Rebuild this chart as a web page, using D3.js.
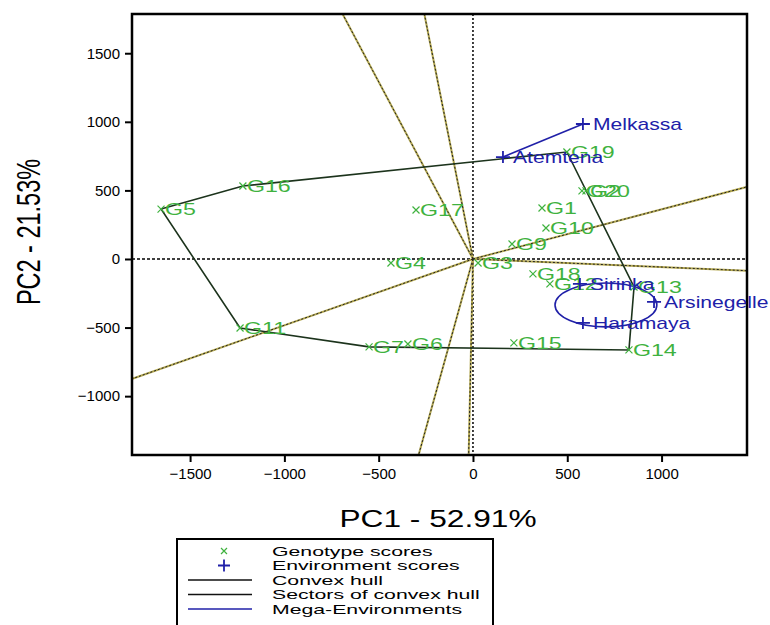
<!DOCTYPE html>
<html>
<head>
<meta charset="utf-8">
<script src="https://cdn.jsdelivr.net/npm/d3@7"></script>
<style>
  body { margin: 0; background: #fff; }
  svg { font-family: "Liberation Sans", Arial, sans-serif; }
</style>
</head>
<body>
<div id="chart"></div>
<script>
"use strict";

// genotype scores
var genoNames = ["G1", "G2", "G3", "G4", "G5", "G6", "G7", "G9", "G10", "G11",
                 "G12", "G13", "G14", "G15", "G16", "G17", "G18", "G19", "G20"];
var genoPC1 = [366, 599, 27, -435, -1654, -345, -551, 207, 387, -1235,
               408, 854, 827, 217, -1220, -302, 318, 498, 578];
var genoPC2 = [372, 496, -29, -29, 364, -620, -641, 109, 226, -503,
               -182, -204, -663, -612, 532, 357, -109, 780, 496];

// environment scores
var envNames = ["Melkassa", "Atemtena", "Sirinka", "Arsinegelle", "Haramaya"];
var envPC1 = [583, 159, 567, 960, 583];
var envPC2 = [984, 743, -182, -313, -466];

// convex hull vertices, in order
var hullNames = ["G5", "G16", "G19", "G13", "G14", "G7", "G11"];

// mega-environments: a link and an ellipse
var megaLink = ["Atemtena", "Melkassa"];
var megaEllipse = { cx: 705, cy: -335, rx: 270, ry: 160 };

var xTicks = [-1500, -1000, -500, 0, 500, 1000];
var yTicks = [-1000, -500, 0, 500, 1000, 1500];

var legendItems = ["Genotype scores", "Environment scores", "Convex hull",
                   "Sectors of convex hull", "Mega-Environments"];

var box = { left: 132, right: 747, top: 14, bottom: 455 };
var green = "#3fb23f";
var blue = "#2020a8";

var svg = d3.select("#chart").append("svg")
    .attr("width", 770)
    .attr("height", 625);

var x = d3.scaleLinear().domain([-1808, 1453]).range([box.left, box.right]);
var y = d3.scaleLinear().domain([-1429, 1786]).range([box.bottom, box.top]);

var genos = genoNames.map(function(n, i) { return { name: n, x: genoPC1[i], y: genoPC2[i] }; });
var envs = envNames.map(function(n, i) { return { name: n, x: envPC1[i], y: envPC2[i] }; });
var byName = {};
genos.forEach(function(d) { byName[d.name] = d; });
envs.forEach(function(d) { byName[d.name] = d; });

var plot = svg.append("g");
plot.append("clipPath").attr("id", "clip")
    .append("rect")
    .attr("x", box.left).attr("y", box.top)
    .attr("width", box.right - box.left).attr("height", box.bottom - box.top);
var inner = plot.append("g").attr("clip-path", "url(#clip)");

// dotted zero lines
inner.append("line")
    .attr("x1", x(0)).attr("x2", x(0))
    .attr("y1", box.top).attr("y2", box.bottom)
    .attr("stroke", "#000").attr("stroke-width", 1.5).attr("stroke-dasharray", "2,2");
inner.append("line")
    .attr("x1", box.left).attr("x2", box.right)
    .attr("y1", y(0)).attr("y2", y(0))
    .attr("stroke", "#000").attr("stroke-width", 1.5).attr("stroke-dasharray", "3,2");

// sector rays: perpendicular from origin to each hull side
var hull = hullNames.map(function(n) { return byName[n]; });
var rays = hull.map(function(a, i) {
    var b = hull[(i + 1) % hull.length];
    var dx = b.x - a.x, dy = b.y - a.y;
    var nx = -dy, ny = dx;
    if (nx * a.x + ny * a.y < 0) { nx = -nx; ny = -ny; }
    var len = Math.sqrt(nx * nx + ny * ny);
    return { x: nx / len * 6000, y: ny / len * 6000 };
});
inner.selectAll(".ray").data(rays).enter().append("line")
    .attr("x1", x(0)).attr("y1", y(0))
    .attr("x2", function(d) { return x(d.x); })
    .attr("y2", function(d) { return y(d.y); })
    .attr("stroke", "#b4a850").attr("stroke-width", 2);
inner.selectAll(".ray2").data(rays).enter().append("line")
    .attr("x1", x(0)).attr("y1", y(0))
    .attr("x2", function(d) { return x(d.x); })
    .attr("y2", function(d) { return y(d.y); })
    .attr("stroke", "#222").attr("stroke-width", 1).attr("stroke-dasharray", "2,2");

// convex hull
inner.append("path")
    .datum(hull)
    .attr("d", d3.line().x(function(d) { return x(d.x); }).y(function(d) { return y(d.y); }).curve(d3.curveLinearClosed))
    .attr("fill", "none").attr("stroke", "#1c331c").attr("stroke-width", 1.6);

// mega-environments
inner.append("line")
    .attr("x1", x(byName[megaLink[0]].x)).attr("y1", y(byName[megaLink[0]].y))
    .attr("x2", x(byName[megaLink[1]].x)).attr("y2", y(byName[megaLink[1]].y))
    .attr("stroke", blue).attr("stroke-width", 1.6);
inner.append("ellipse")
    .attr("cx", x(megaEllipse.cx)).attr("cy", y(megaEllipse.cy))
    .attr("rx", x(megaEllipse.rx) - x(0)).attr("ry", y(0) - y(megaEllipse.ry))
    .attr("fill", "none").attr("stroke", blue).attr("stroke-width", 1.6);

// frame
plot.append("rect")
    .attr("x", box.left).attr("y", box.top)
    .attr("width", box.right - box.left).attr("height", box.bottom - box.top)
    .attr("fill", "none").attr("stroke", "#000").attr("stroke-width", 2.5);

// genotype markers and labels (reference text is stretched wide), not clipped
var g = plot.selectAll(".geno").data(genos).enter().append("g")
    .attr("transform", function(d) { return "translate(" + x(d.x) + "," + y(d.y) + ")"; });
g.append("path")
    .attr("d", "M-3.5,-3.5L3.5,3.5M-3.5,3.5L3.5,-3.5")
    .attr("stroke", green).attr("stroke-width", 1.2);
g.append("text")
    .attr("transform", "translate(4,6) scale(1.45,1)")
    .attr("fill", green).style("font-size", "16px")
    .text(function(d) { return d.name; });

// environment markers and labels
var e = plot.selectAll(".env").data(envs).enter().append("g")
    .attr("transform", function(d) { return "translate(" + x(d.x) + "," + y(d.y) + ")"; });
e.append("path")
    .attr("d", "M-7,0L7,0M0,-6L0,6")
    .attr("stroke", blue).attr("stroke-width", 1.8);
e.append("text")
    .attr("transform", "translate(10,6) scale(1.32,1)")
    .attr("fill", blue).style("font-size", "16px")
    .text(function(d) { return d.name; });

// axes
var xAxis = svg.append("g")
    .attr("transform", "translate(0," + box.bottom + ")")
    .call(d3.axisBottom(x).tickValues(xTicks).tickSize(7).tickPadding(6).tickFormat(d3.format("d")));
var yAxis = svg.append("g")
    .attr("transform", "translate(" + box.left + ",0)")
    .call(d3.axisLeft(y).tickValues(yTicks).tickSize(7).tickPadding(5).tickFormat(d3.format("d")));
[xAxis, yAxis].forEach(function(a) {
    a.select(".domain").remove();
    a.selectAll(".tick line").attr("stroke", "#000").attr("stroke-width", 2);
    a.selectAll(".tick text").attr("fill", "#000")
        .style("font-size", "15px").style("font-family", "Liberation Sans, Arial, sans-serif");
});

// axis titles
svg.append("text")
    .attr("transform", "translate(438,527) scale(1.32,1)")
    .attr("text-anchor", "middle").style("font-size", "24px")
    .text("PC1 - 52.91%");
svg.append("text")
    .attr("transform", "translate(40,232) scale(1.4,1) rotate(-90)")
    .attr("text-anchor", "middle").style("font-size", "23.5px")
    .text("PC2 - 21.53%");

// legend
var lg = svg.append("g");
lg.append("rect")
    .attr("x", 177).attr("y", 539).attr("width", 316).attr("height", 100)
    .attr("fill", "#fff").attr("stroke", "#000").attr("stroke-width", 2);
var rows = lg.selectAll(".row").data(legendItems).enter().append("g")
    .attr("transform", function(d, i) { return "translate(0," + (551 + i * 14.5) + ")"; });
rows.append("text")
    .attr("transform", "translate(272,4.5) scale(1.7,1)")
    .style("font-size", "12.5px")
    .text(function(d) { return d; });
rows.each(function(d, i) {
    var r = d3.select(this);
    if (i === 0) {
        r.append("path").attr("d", "M221,-3L227,3M221,3L227,-3")
            .attr("stroke", green).attr("stroke-width", 1.2);
    } else if (i === 1) {
        r.append("path").attr("d", "M218,0L230,0M224,-6L224,6")
            .attr("stroke", blue).attr("stroke-width", 1.8);
    } else {
        r.append("line").attr("x1", 188).attr("x2", 252).attr("y1", 0).attr("y2", 0)
            .attr("stroke", i === 4 ? blue : "#111").attr("stroke-width", 1.6);
    }
});
</script>
</body>
</html>
